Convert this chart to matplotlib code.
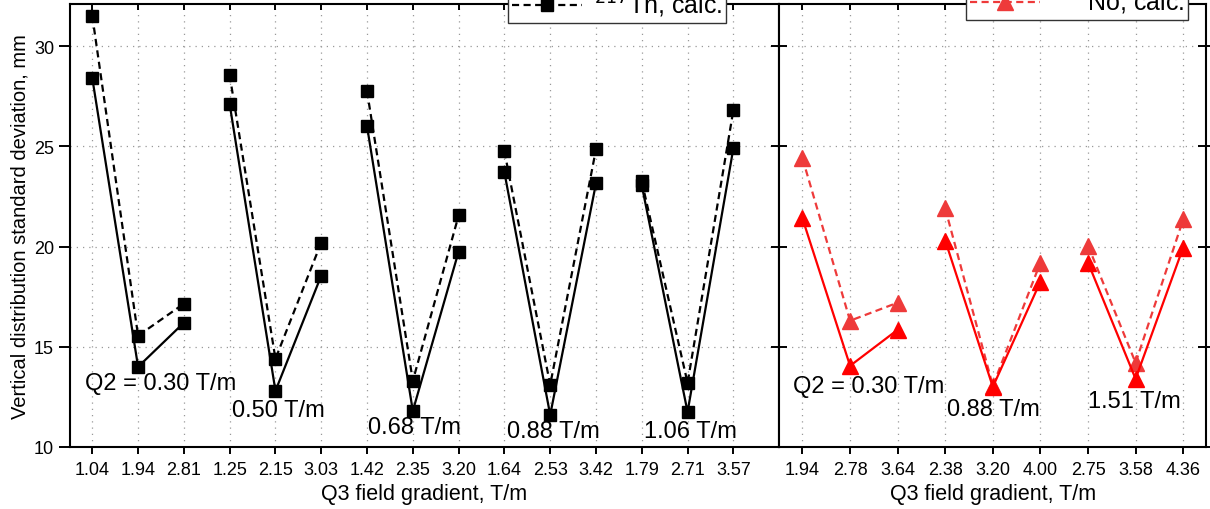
import matplotlib
matplotlib.use("Agg")
import matplotlib.pyplot as plt
import numpy as np

plt.rcParams['font.family'] = ['Liberation Sans', 'DejaVu Sans']

# Th-217, five Q2 settings, three Q3 values each
th_q3_labels = ["1.04", "1.94", "2.81", "1.25", "2.15", "3.03", "1.42", "2.35", "3.20",
                "1.64", "2.53", "3.42", "1.79", "2.71", "3.57"]
th_exp = [28.4, 14.0, 16.2, 27.1, 12.8, 18.55, 26.0, 11.8, 19.75,
          23.7, 11.6, 23.15, 23.05, 11.75, 24.9]
th_calc = [31.5, 15.55, 17.15, 28.55, 14.4, 20.2, 27.75, 13.3, 21.55,
           24.75, 13.1, 24.85, 23.25, 13.2, 26.8]
th_q2_labels = ["Q2 = 0.30 T/m", "0.50 T/m", "0.68 T/m", "0.88 T/m", "1.06 T/m"]

# No-252, three Q2 settings
no_q3_labels = ["1.94", "2.78", "3.64", "2.38", "3.20", "4.00", "2.75", "3.58", "4.36"]
no_exp = [21.4, 14.05, 15.85, 20.3, 13.0, 18.25, 19.2, 13.4, 19.95]
no_calc = [24.4, 16.3, 17.2, 21.9, 13.05, 19.2, 20.05, 14.2, 21.35]
no_q2_labels = ["Q2 = 0.30 T/m", "0.88 T/m", "1.51 T/m"]

fig = plt.figure(figsize=(12.1, 5.1), dpi=100)
gs = fig.add_gridspec(1, 2, width_ratios=[709, 428], wspace=0,
                      left=70 / 1210, right=1206.5 / 1210, bottom=1 - 448 / 510, top=1 - 5 / 510)
ax1 = fig.add_subplot(gs[0])
ax2 = fig.add_subplot(gs[1], sharey=ax1)

red_solid = "#ff0000"
red_dash = "#ee3a3a"
dash = (0, (3.2, 2))


def draw(ax, exp, calc, color_exp, color_calc, marker, ms):
    x = np.arange(len(exp))
    for g in range(0, len(exp), 3):
        xs = x[g:g + 3]
        ax.plot(xs, calc[g:g + 3], ls=dash, color=color_calc, lw=1.6,
                marker=marker, ms=ms, zorder=3)
        ax.plot(xs, exp[g:g + 3], ls="-", color=color_exp, lw=1.6,
                marker=marker, ms=ms, zorder=4)


draw(ax1, th_exp, th_calc, "black", "black", "s", 9)
draw(ax2, no_exp, no_calc, red_solid, red_dash, "^", 11)

# group labels
th_lab_pos = [(-0.16, 13.2), (3.05, 11.84), (6.02, 11.0), (9.05, 10.8), (12.04, 10.8)]
for (x, y), t in zip(th_lab_pos, th_q2_labels):
    ax1.text(x, y, t, fontsize=17, va="center", ha="left")
no_lab_pos = [(-0.2, 13.05), (3.03, 11.9), (5.99, 12.3)]
for (x, y), t in zip(no_lab_pos, no_q2_labels):
    ax2.text(x, y, t, fontsize=17, va="center", ha="left")

ax1.set_xlim(-0.487, 14.99)
ax2.set_xlim(-0.5, 8.49)
ax1.set_ylim(10, 32.1)
ax1.set_yticks([10, 15, 20, 25, 30])

ax1.set_xticks(np.arange(len(th_q3_labels)))
ax1.set_xticklabels(th_q3_labels)
ax2.set_xticks(np.arange(len(no_q3_labels)))
ax2.set_xticklabels(no_q3_labels)

for ax in (ax1, ax2):
    ax.grid(True, ls=(0, (1, 4)), color="#999999", lw=0.9)
    ax.tick_params(axis="x", which="both", bottom=True, top=True, direction="out",
                   length=5, width=1.4, labelsize=13, pad=5)
    for sp in ax.spines.values():
        sp.set_linewidth(1.5)
    ax.set_xlabel("Q3 field gradient, T/m", fontsize=15.5, labelpad=4)

# top ticks point inward
for ax in (ax1, ax2):
    for t in ax.xaxis.get_major_ticks():
        t.tick2line.set_marker(matplotlib.lines.TICKDOWN)
        t.tick2line.set_markersize(4)

ax1.tick_params(axis="y", direction="out", length=8, width=1.4, labelsize=13, right=False)
ax2.tick_params(axis="y", direction="inout", length=12, width=1.4, left=True, right=True,
                labelleft=False)

ax1.set_ylabel("Vertical distribution standard deviation, mm", fontsize=14.5, labelpad=3)

# legends (top part falls outside the figure, as in the source)
h1, = ax1.plot([], [], ls="-", color="black", marker="s", ms=9, lw=1.6, label="$^{217}$Th, exp.")
h2, = ax1.plot([], [], ls=dash, color="black", marker="s", ms=9, lw=1.6,
               label="$^{217}$Th, calc.")
leg1 = fig.legend(handles=[h1, h2], loc="lower center", bbox_to_anchor=(617 / 1210, 1 - 24 / 510),
                  fontsize=18, frameon=True, fancybox=False, edgecolor="#333333", framealpha=1,
                  handlelength=2.8, borderpad=0.15, labelspacing=0.1, handletextpad=0.5,
                  borderaxespad=0)
leg1.get_frame().set_linewidth(1.0)

h3, = ax2.plot([], [], ls="-", color=red_solid, marker="^", ms=11, lw=1.6, label="$^{252}$No, exp.")
h4, = ax2.plot([], [], ls=dash, color=red_dash, marker="^", ms=11, lw=1.6,
               label="$^{252}$No, calc.")
leg2 = fig.legend(handles=[h3, h4], loc="lower center", bbox_to_anchor=(1077 / 1210, 1 - 21 / 510),
                  fontsize=18, frameon=True, fancybox=False, edgecolor="#333333", framealpha=1,
                  handlelength=2.8, borderpad=0.15, labelspacing=0.1, handletextpad=0.5,
                  borderaxespad=0)
leg2.get_frame().set_linewidth(1.0)

fig.savefig("out.png", dpi=100)
